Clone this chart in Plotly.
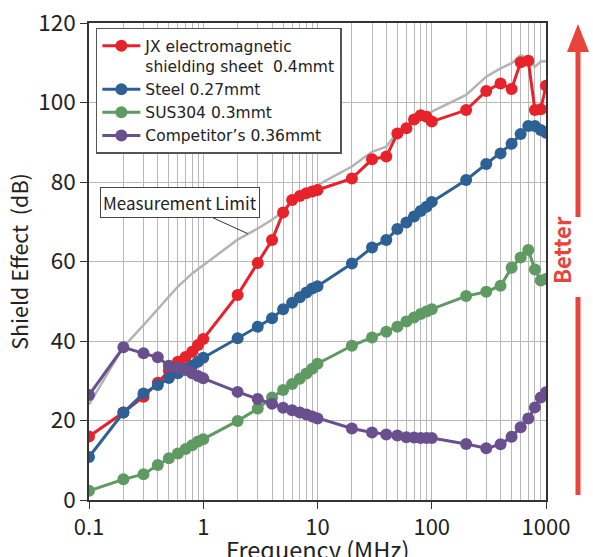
import plotly.graph_objects as go

# ---------------- data ----------------
freq_full = [0.1, 0.2, 0.3, 0.4, 0.5, 0.6, 0.7, 0.8, 0.9, 1,
             2, 3, 4, 5, 6, 7, 8, 9, 10,
             20, 30, 40, 50, 60, 70, 80, 90, 100,
             200, 300, 400, 500, 600, 700, 800, 900, 1000]

jx_sheet = [16, 22, 26, 29.5, 32.5, 34.8, 36, 37.3, 39, 40.5,
            51.6, 59.6, 65.4, 72.3, 75.5, 76.5, 77.2, 77.6, 78,
            80.9, 85.7, 86.4, 92.2, 93.5, 95.7, 96.8, 96.4, 95.2,
            98.1, 102.9, 104.8, 103.4, 110.1, 110.5, 98.1, 98.3, 104.2]

steel = [10.8, 22, 26.8, 28.9, 30.7, 31.9, 33, 33.8, 34.8, 35.8,
         40.7, 43.6, 45.7, 48, 49.6, 51, 52.2, 53.2, 53.8,
         59.5, 63.5, 65.4, 68.2, 69.8, 71.3, 72.7, 73.8, 75,
         80.5, 84.5, 87.2, 89.6, 92.1, 94.1, 94.1, 93.1, 92.4]

sus304 = [2.3, 5.2, 6.5, 8.8, 10.5, 11.7, 12.8, 13.8, 14.7, 15.3,
          19.9, 23, 25.8, 27.7, 29.2, 30.5, 31.8, 33, 34.3,
          38.8, 40.9, 42.3, 43.6, 44.9, 45.9, 46.8, 47.4, 48,
          51.3, 52.4, 53.9, 58.4, 61, 62.9, 58, 55.2, 55.6]

competitor = [26.4, 38.4, 36.9, 35.9, 33.8, 33.3, 32.7, 31.9, 31.2, 30.6,
              27.2, 25.4, 24.2, 23.2, 22.6, 22, 21.5, 21, 20.5,
              18, 17, 16.5, 16.2, 15.8, 15.7, 15.6, 15.6, 15.6,
              14.1, 13, 14, 15.9, 18.3, 20.5, 23.3, 25.8, 27.1]

limit_freq = [0.1, 0.2, 0.3, 0.4, 0.5, 0.6, 0.8, 1, 2, 3, 4, 5, 6, 7, 10,
              20, 30, 40, 50, 60, 70, 80, 100, 200, 300, 400, 500, 600,
              700, 800, 900, 1000]
limit_db = [24, 38.5, 44, 48, 51, 53.7, 57, 59.1, 65.5, 68.3, 70.5, 72.5, 75.5,
            76.5, 79.2, 83.9, 87.6, 88.9, 92.5, 94, 95.8, 96.6, 97.7, 101.9,
            106.5, 108.6, 109.9, 111.9, 111, 109, 110.3, 110.4]

series_names = ["JX electromagnetic<br>shielding sheet\u00a0\u00a00.4mmt",
                "Steel 0.27mmt", "SUS304 0.3mmt", "Competitor’s 0.36mmt"]

x_tick_vals = [0.1, 1, 10, 100, 1000]
x_tick_text = ["0.1", "1", "10", "100", "1000"]
x_minor_vals = [m * d for d in [0.1, 1, 10, 100] for m in range(2, 10)]
y_tick_vals = [0, 20, 40, 60, 80, 100, 120]

# ---------------- figure ----------------
FONT = "Noto Sans CJK JP"
LEGEND_FONT = "DejaVu Sans"
colors = ["#e8222a", "#2d6195", "#5f9a63", "#6a4f8f"]
series = [jx_sheet, steel, sus304, competitor]

fig = go.Figure()
fig.add_trace(go.Scatter(x=limit_freq, y=limit_db, mode="lines",
                         line=dict(color="#b3b3b3", width=2.5),
                         showlegend=False, hoverinfo="skip"))
for name, ys, c in zip(series_names, series, colors):
    fig.add_trace(go.Scatter(x=freq_full, y=ys, mode="lines+markers", name=name,
                             line=dict(color=c, width=3),
                             marker=dict(color=c, size=12)))

fig.update_layout(
    width=593, height=557,
    margin=dict(l=89, r=47, t=23, b=57, autoexpand=False),
    paper_bgcolor="white", plot_bgcolor="white",
    font=dict(family=FONT, color="#222222"),
    legend=dict(x=0.015, y=0.99, xanchor="left", yanchor="top",
                bgcolor="white", bordercolor="#555555", borderwidth=1.5,
                font=dict(size=15.5, color="#222222", family=LEGEND_FONT),
                tracegroupgap=0, itemwidth=38, valign="top"),
    xaxis=dict(type="log", range=[-1, 3], automargin=False,
               tickvals=x_tick_vals, ticktext=x_tick_text,
               tickfont=dict(size=22), ticks="outside", ticklen=7,
               tickcolor="#333333",
               showgrid=True, gridcolor="#b8b8b8", gridwidth=1,
               minor=dict(tickvals=x_minor_vals, showgrid=True,
                          gridcolor="#b8b8b8", gridwidth=1, ticks=""),
               showline=True, linecolor="#333333", linewidth=1.5, mirror=True,
               zeroline=False),
    yaxis=dict(range=[0, 120], tickvals=y_tick_vals, automargin=False,
               tickfont=dict(size=22.5), ticks="outside", ticklen=7,
               tickcolor="#333333",
               showgrid=True, gridcolor="#b8b8b8", gridwidth=1,
               showline=True, linecolor="#333333", linewidth=1.5, mirror=True,
               title=dict(text="Shield Effect\u00a0\u00a0(dB)", font=dict(size=21.5),
                          standoff=4),
               zeroline=False),
)

def py(p):
    return (500 - p) / 477.0
def px(p):
    return (p - 89) / 457.0

# x-axis title (placed as an annotation so it sits just below the tick labels)
fig.add_annotation(x=0.5, y=py(549), xref="paper", yref="paper",
                   text="Frequency (MHz)", showarrow=False,
                   xanchor="center", yanchor="middle",
                   font=dict(size=23.5, color="#222222"))

# Measurement limit callout
fig.add_annotation(x=0.39, y=67, xref="x", yref="y",
                   text="Measurement Limit", showarrow=True,
                   arrowhead=0, arrowwidth=1, arrowcolor="#333333",
                   ax=-68, ay=-31, font=dict(size=17, color="#222222"),
                   bgcolor="white", bordercolor="#444444", borderwidth=1,
                   borderpad=2)

# "Better" arrow on the right
red = "#e8443a"
fig.add_shape(type="line", xref="paper", yref="paper",
              x0=px(578), x1=px(578), y0=py(495), y1=py(297),
              line=dict(color=red, width=5))
fig.add_shape(type="line", xref="paper", yref="paper",
              x0=px(578), x1=px(578), y0=py(217), y1=py(50),
              line=dict(color=red, width=5))
fig.add_shape(type="path", xref="paper", yref="paper",
              path=f"M {px(567)} {py(52)} L {px(589)} {py(52)} L {px(578)} {py(24)} Z",
              fillcolor=red, line=dict(color=red, width=0))
fig.add_annotation(x=px(579), y=py(250), xref="paper", yref="paper",
                   text="<b>Better</b>", textangle=-90, showarrow=False,
                   font=dict(size=22, color=red))

fig.write_html("out.html", config={"displayModeBar": False},
               post_script="document.body.style.margin='0';")
